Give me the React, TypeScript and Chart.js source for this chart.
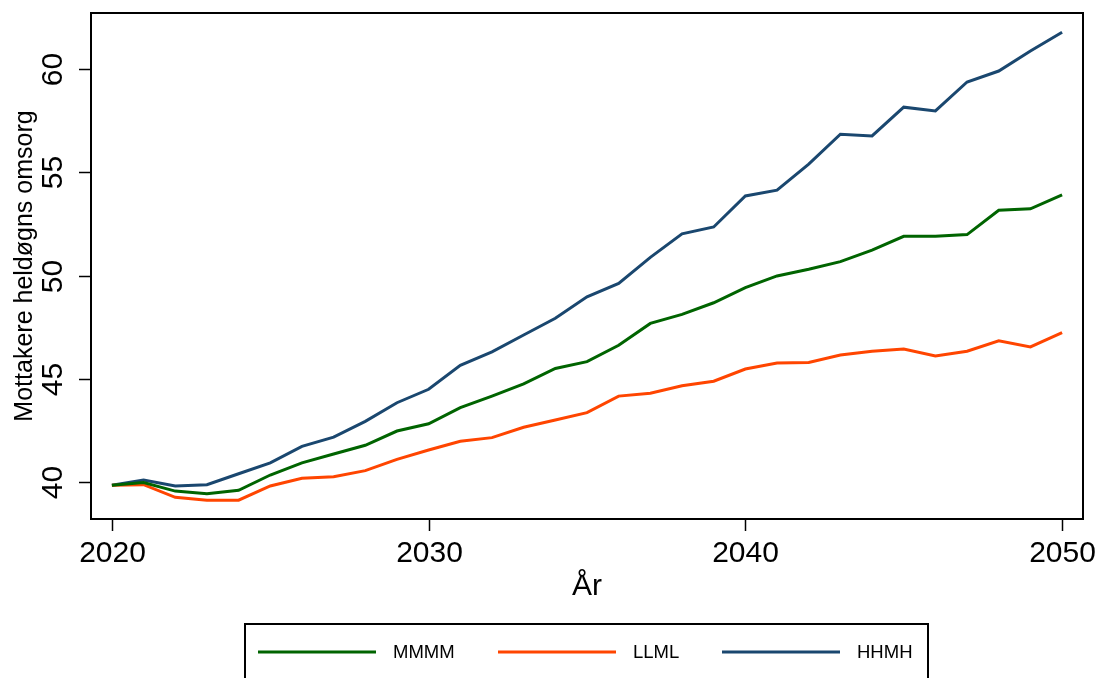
import React, { useEffect, useRef } from "react";
import { Chart, registerables } from "chart.js";

Chart.register(...registerables);

const years = [
  2020, 2021, 2022, 2023, 2024, 2025, 2026, 2027, 2028, 2029, 2030,
  2031, 2032, 2033, 2034, 2035, 2036, 2037, 2038, 2039, 2040,
  2041, 2042, 2043, 2044, 2045, 2046, 2047, 2048, 2049, 2050,
];

const mmmm = [
  39.84, 39.98, 39.56, 39.43, 39.6, 40.34, 40.93, 41.36, 41.78, 42.47, 42.82,
  43.6, 44.16, 44.75, 45.5, 45.83, 46.62, 47.68, 48.12, 48.68, 49.41,
  49.98, 50.3, 50.67, 51.23, 51.9, 51.9, 51.98, 53.16, 53.23, 53.9,
];

const llml = [
  39.84, 39.87, 39.26, 39.12, 39.12, 39.81, 40.18, 40.26, 40.55, 41.1, 41.55,
  41.97, 42.15, 42.65, 43.0, 43.36, 44.16, 44.3, 44.66, 44.88, 45.47,
  45.76, 45.79, 46.15, 46.33, 46.44, 46.1, 46.33, 46.84, 46.54, 47.23,
];

const hhmh = [
  39.84, 40.1, 39.81, 39.87, 40.4, 40.93, 41.73, 42.17, 42.94, 43.84, 44.49,
  45.65, 46.3, 47.12, 47.93, 48.97, 49.62, 50.88, 52.02, 52.35, 53.85,
  54.13, 55.39, 56.84, 56.76, 58.15, 57.97, 59.37, 59.9, 60.87, 61.78,
];

const seriesNames = ["MMMM", "LLML", "HHMH"];
const seriesColors = ["#006400", "#ff4500", "#1a476f"];
const xTicks = [2020, 2030, 2040, 2050];
const yTicks = [40, 45, 50, 55, 60];
const xTitle = "År";
const yTitle = "Mottakere heldøgns omsorg";

const FONT = "'Liberation Sans', Arial, Helvetica, sans-serif";

const decorPlugin = {
  id: "decor",
  afterDraw(chart: any) {
    const ctx = chart.ctx;
    const { left, right, top, bottom } = chart.chartArea;
    const xs = chart.scales.x;
    const ys = chart.scales.y;
    ctx.save();
    ctx.strokeStyle = "#000";
    ctx.fillStyle = "#000";
    ctx.lineWidth = 2;
    ctx.strokeRect(left, top, right - left, bottom - top);

    // x ticks
    ctx.lineWidth = 1.5;
    ctx.font = `30px ${FONT}`;
    ctx.textAlign = "center";
    ctx.textBaseline = "alphabetic";
    xTicks.forEach((v) => {
      const px = Math.round(xs.getPixelForValue(v)) + 0.5;
      ctx.beginPath();
      ctx.moveTo(px, bottom);
      ctx.lineTo(px, bottom + 12);
      ctx.stroke();
      ctx.fillText(String(v), px, 562);
    });
    ctx.fillText(xTitle, (left + right) / 2, 595);

    // y ticks
    yTicks.forEach((v) => {
      const py = Math.round(ys.getPixelForValue(v)) + 0.5;
      ctx.beginPath();
      ctx.moveTo(left, py);
      ctx.lineTo(left - 12, py);
      ctx.stroke();
      ctx.save();
      ctx.translate(62, py);
      ctx.rotate(-Math.PI / 2);
      ctx.textAlign = "center";
      ctx.fillText(String(v), 0, 0);
      ctx.restore();
    });
    ctx.save();
    ctx.font = `25px ${FONT}`;
    ctx.translate(32, (top + bottom) / 2);
    ctx.rotate(-Math.PI / 2);
    ctx.textAlign = "center";
    ctx.fillText(yTitle, 0, 0);
    ctx.restore();

    // legend
    ctx.lineWidth = 2;
    ctx.strokeRect(245, 624, 683, 80);
    const starts = [258, 498, 722];
    ctx.font = `18.5px ${FONT}`;
    ctx.textAlign = "left";
    ctx.textBaseline = "middle";
    seriesNames.forEach((name, i) => {
      ctx.strokeStyle = seriesColors[i];
      ctx.lineWidth = 3;
      ctx.beginPath();
      ctx.moveTo(starts[i], 652);
      ctx.lineTo(starts[i] + 118, 652);
      ctx.stroke();
      ctx.fillStyle = "#000";
      ctx.fillText(name, starts[i] + 135, 653);
    });
    ctx.restore();
  },
};

export default function App() {
  const ref = useRef<HTMLCanvasElement>(null);
  useEffect(() => {
    document.body.style.margin = "0";
    const seriesValues = [mmmm, llml, hhmh];
    const chart = new Chart(ref.current as HTMLCanvasElement, {
      type: "line",
      data: {
        datasets: seriesNames.map((name, i) => ({
          label: name,
          data: years.map((yr, j) => ({ x: yr, y: seriesValues[i][j] })),
          borderColor: seriesColors[i],
          backgroundColor: seriesColors[i],
          borderWidth: 3,
          pointRadius: 0,
          tension: 0,
          fill: false,
        })),
      },
      options: {
        responsive: false,
        animation: false,
        devicePixelRatio: 1,
        layout: { padding: { top: 13, right: 22, left: 0, bottom: 0 } },
        plugins: { legend: { display: false }, tooltip: { enabled: false } },
        scales: {
          x: {
            type: "linear",
            min: 2019.34,
            max: 2050.66,
            grid: { display: false },
            border: { display: false },
            ticks: { display: false },
            afterFit: (s: any) => {
              s.height = 159;
            },
          },
          y: {
            type: "linear",
            min: 38.21,
            max: 62.71,
            grid: { display: false },
            border: { display: false },
            ticks: { display: false },
            afterFit: (s: any) => {
              s.width = 91;
            },
          },
        },
      },
      plugins: [decorPlugin],
    } as any);
    return () => chart.destroy();
  }, []);
  return (
    <div style={{ position: "absolute", left: 0, top: 0, width: 1105, height: 678, background: "#fff" }}>
      <canvas ref={ref} width={1105} height={678} style={{ width: 1105, height: 678, display: "block" }} />
    </div>
  );
}
